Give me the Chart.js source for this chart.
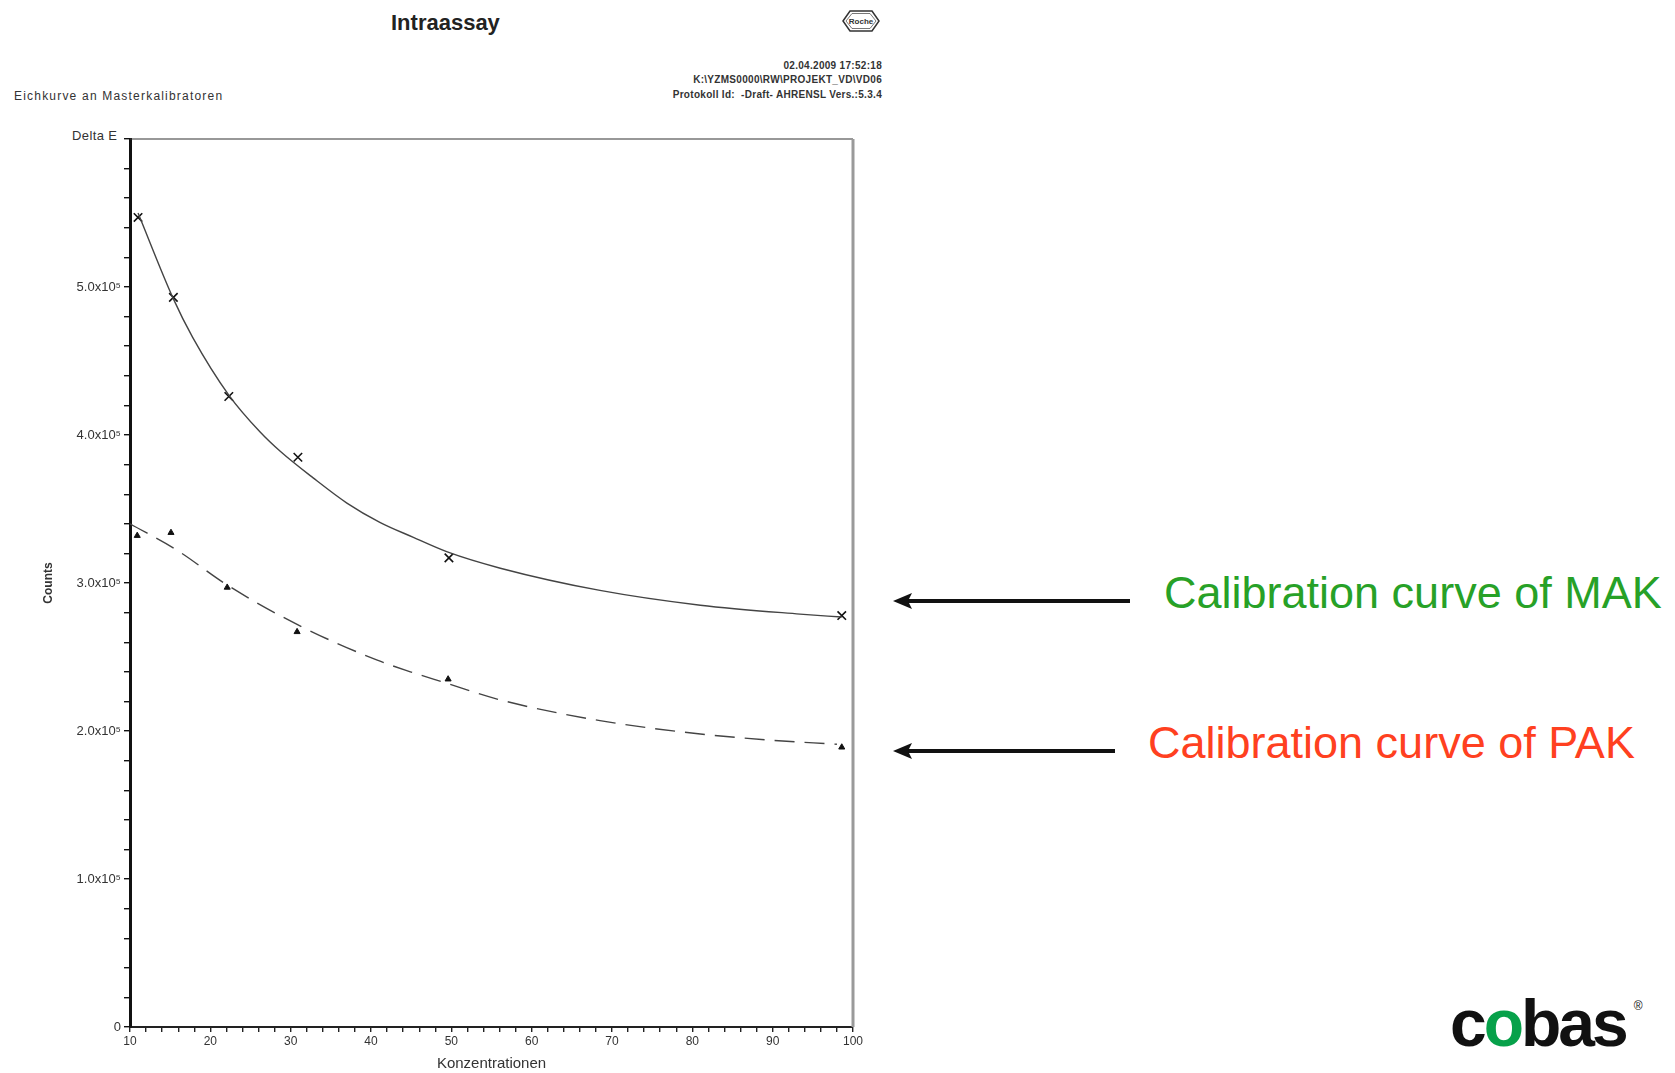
<!DOCTYPE html>
<html>
<head>
<meta charset="utf-8">
<title>Intraassay</title>
<script src="https://cdn.jsdelivr.net/npm/chart.js@4/dist/chart.umd.min.js"></script>
<style>
    html, body { margin: 0; padding: 0; background: #fff; }
    body { width: 1675px; height: 1073px; position: relative; overflow: hidden; font-family: "Liberation Sans", Arial, sans-serif; }
    .abs { position: absolute; white-space: nowrap; }
    #chart-box { position: absolute; left: 0; top: 120px; width: 880px; height: 953px; }
    .title { left: 391px; top: 10px; font-size: 22px; font-weight: bold; color: #222; }
    .sub-left { left: 14px; top: 89px; font-size: 12px; letter-spacing: 1.2px; color: #333; }
    .meta { right: 793px; font-size: 10px; letter-spacing: 0.3px; font-weight: bold; color: #333; text-align: right; }
    .delta { left: 72px; top: 128px; font-size: 13px; letter-spacing: 0.4px; color: #333; }
    .note { font-size: 45px; }
    .mak { left: 1164px; top: 567px; color: #27a127; }
    .pak { left: 1148px; top: 717px; color: #ff4020; }
    .logo { left: 1450px; top: 985px; font-size: 66px; font-weight: bold; letter-spacing: -3px; color: #111; }
    .logo .o { color: #07a14a; }
    .logo sup { font-size: 12px; letter-spacing: 0; vertical-align: top; position: relative; top: 14px; left: 8px; font-weight: normal; }
</style>
</head>
<body>

<div class="abs title">Intraassay</div>
<div class="abs sub-left">Eichkurve an Masterkalibratoren</div>
<div class="abs meta" style="top:60px">02.04.2009 17:52:18</div>
<div class="abs meta" style="top:74px">K:\YZMS0000\RW\PROJEKT_VD\VD06</div>
<div class="abs meta" style="top:89px">Protokoll Id:&nbsp; -Draft- AHRENSL Vers.:5.3.4</div>
<div class="abs delta">Delta E</div>

<svg class="abs" style="left:0;top:0" width="1675" height="1073">
    <polygon points="843,21 850,11 872,11 879,21 872,31 850,31" fill="none" stroke="#333" stroke-width="1.5"/>
    <polygon points="846,21 852,13.5 870,13.5 876,21 870,28.5 852,28.5" fill="none" stroke="#555" stroke-width="0.8"/>
    <text x="861" y="24" font-size="8" font-weight="bold" text-anchor="middle" fill="#333" font-family="Liberation Sans, Arial">Roche</text>
    <line x1="905" y1="601" x2="1130" y2="601" stroke="#111" stroke-width="4"/>
    <polygon points="893,601 912,593 908,601 912,609" fill="#111"/>
    <line x1="905" y1="751" x2="1115" y2="751" stroke="#111" stroke-width="4"/>
    <polygon points="893,751 912,743 908,751 912,759" fill="#111"/>
</svg>

<div class="abs note mak">Calibration curve of MAK</div>
<div class="abs note pak">Calibration curve of PAK</div>
<div class="abs logo">c<span class="o">o</span>bas<sup>®</sup></div>

<div id="chart-box"><canvas id="calChart"></canvas></div>

<script>
// measured calibrator points (Konzentrationen / Counts)
const makConc = [11.0, 15.4, 22.3, 30.9, 49.7, 98.6];
const makCounts = [547000, 493000, 426000, 385000, 317000, 278000];
const pakConc = [10.9, 15.1, 22.1, 30.8, 49.6, 98.6];
const pakCounts = [332000, 334000, 297000, 267000, 235000, 189000];

// fitted curves
const makFitConc = [11.0, 15.4, 17.8, 22.3, 26.2, 28.7, 32.8, 37.0, 41.1, 45.2, 49.5, 56.1, 68.5, 81.0, 93.4, 98.6];
const makFitCounts = [550000, 492000, 466000, 427000, 402000, 389000, 371000, 354000, 341000, 331000, 321000, 310000, 295000, 285000, 279000, 277000];
const pakFitConc = [10.0, 15.9, 22.0, 30.8, 40.7, 44.9, 49.0, 56.1, 68.5, 81.0, 89.3, 98.0];
const pakFitCounts = [340000, 322000, 299000, 272000, 248000, 240000, 233000, 221000, 207000, 198000, 194000, 191000];

// axis ticks
const xTickLabels = [10, 20, 30, 40, 50, 60, 70, 80, 90, 100];
const yTickLabels = ['0', '1.0x10⁵', '2.0x10⁵', '3.0x10⁵', '4.0x10⁵', '5.0x10⁵'];

const toXY = (xs, ys) => xs.map((x, i) => ({ x: x, y: ys[i] }));

// frame on top and right of the plot
const framePlugin = {
    id: 'frame',
    afterDraw(chart) {
        const { ctx, chartArea: a } = chart;
        ctx.save();
        ctx.strokeStyle = '#333';
        ctx.lineWidth = 1.2;
        ctx.beginPath();
        ctx.moveTo(a.left, a.top);
        ctx.lineTo(a.right, a.top);
        ctx.stroke();
        ctx.strokeStyle = '#9a9a9a';
        ctx.lineWidth = 3;
        ctx.beginPath();
        ctx.moveTo(a.right, a.top);
        ctx.lineTo(a.right, a.bottom);
        ctx.stroke();
        ctx.restore();
    }
};

const tickFont = { family: 'Liberation Sans, Arial, sans-serif', size: 13 };

new Chart(document.getElementById('calChart'), {
    type: 'scatter',
    data: {
        datasets: [
            {
                label: 'MAK fit',
                data: toXY(makFitConc, makFitCounts),
                showLine: true,
                borderColor: '#444',
                borderWidth: 1.4,
                pointRadius: 0,
                cubicInterpolationMode: 'monotone'
            },
            {
                label: 'PAK fit',
                data: toXY(pakFitConc, pakFitCounts),
                showLine: true,
                borderColor: '#444',
                borderWidth: 1.4,
                borderDash: [20, 10],
                pointRadius: 0,
                cubicInterpolationMode: 'monotone'
            },
            {
                label: 'MAK',
                data: toXY(makConc, makCounts),
                pointStyle: 'crossRot',
                pointRadius: 6,
                borderColor: '#111',
                borderWidth: 1.6
            },
            {
                label: 'PAK',
                data: toXY(pakConc, pakCounts),
                pointStyle: 'triangle',
                pointRadius: 3.5,
                backgroundColor: '#111',
                borderColor: '#111',
                borderWidth: 1
            }
        ]
    },
    options: {
        responsive: true,
        maintainAspectRatio: false,
        animation: false,
        layout: { padding: { top: 19, right: 27, left: 0, bottom: 0 } },
        plugins: { legend: { display: false }, tooltip: { enabled: false } },
        scales: {
            x: {
                type: 'linear',
                min: 10,
                max: 100,
                afterFit: s => { s.height = 46; },
                border: { color: '#222', width: 2 },
                grid: { drawOnChartArea: false, color: '#222', lineWidth: 1.4, tickLength: 5 },
                ticks: {
                    stepSize: 2,
                    autoSkip: false,
                    maxRotation: 0,
                    padding: 2,
                    color: '#333',
                    font: { family: 'Liberation Sans, Arial, sans-serif', size: 12 },
                    callback: v => xTickLabels.includes(v) ? String(v) : ''
                },
                title: { display: true, text: 'Konzentrationen', color: '#333', font: { family: 'Liberation Sans, Arial', size: 15 }, padding: { top: 0, bottom: 0 } }
            },
            y: {
                type: 'linear',
                min: 0,
                max: 600000,
                afterFit: s => { s.width = 130; },
                border: { color: '#111', width: 3 },
                grid: { drawOnChartArea: false, color: '#111', lineWidth: 1.4, tickLength: 6 },
                ticks: {
                    stepSize: 20000,
                    autoSkip: false,
                    padding: 3,
                    color: '#333',
                    font: tickFont,
                    callback: v => (v % 100000 === 0 && v / 100000 < yTickLabels.length) ? yTickLabels[v / 100000] : ''
                },
                title: { display: true, text: 'Counts', color: '#333', font: { family: 'Liberation Sans, Arial', size: 12, weight: 'bold' }, padding: { top: 41, bottom: 0 } }
            }
        }
    },
    plugins: [framePlugin]
});
</script>
</body>
</html>
